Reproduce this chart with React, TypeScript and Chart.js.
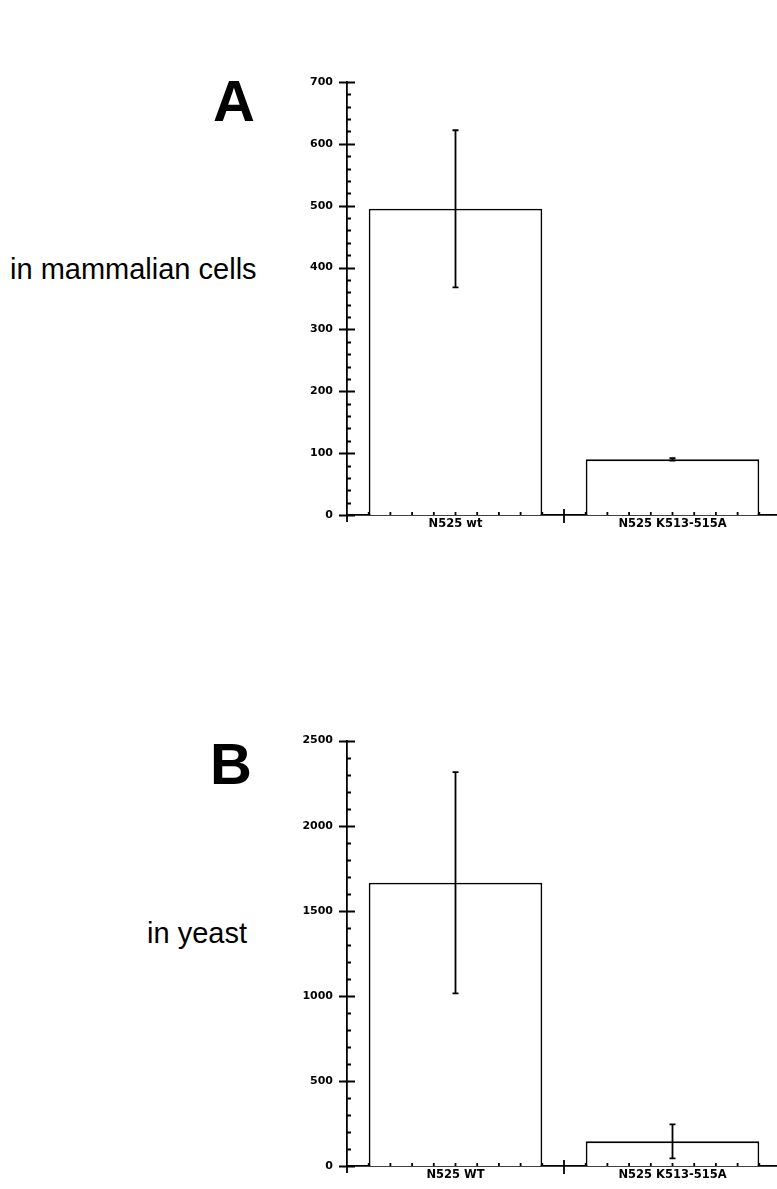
import React, { useEffect, useRef } from 'react';
import { Chart, registerables } from 'chart.js';

Chart.register(...registerables);

// ---- Data (panel A: in mammalian cells) ----
const categoriesA = ['N525 wt', 'N525 K513-515A'];
const valuesA = [495, 90];
const errorsA = [127, 2];
const yMaxA = 700;
const yMajorA = 100;
const yMinorA = 20;

// ---- Data (panel B: in yeast) ----
const categoriesB = ['N525 WT', 'N525 K513-515A'];
const valuesB = [1665, 145];
const errorsB = [650, 100];
const yMaxB = 2500;
const yMajorB = 500;
const yMinorB = 100;

const LW = 1.8;

function makeErrorBarPlugin(errors: number[]) {
  return {
    id: 'errorBars',
    afterDatasetsDraw(chart: any) {
      const meta = chart.getDatasetMeta(0);
      const y = chart.scales.y;
      const ctx = chart.ctx;
      const data = chart.data.datasets[0].data as number[];
      ctx.save();
      ctx.strokeStyle = '#000';
      ctx.lineWidth = LW;
      meta.data.forEach((bar: any, i: number) => {
        const v = data[i];
        const e = errors[i];
        const yt = y.getPixelForValue(v + e);
        const yb = y.getPixelForValue(v - e);
        const x = bar.x;
        const cap = 3;
        ctx.beginPath();
        ctx.moveTo(x, yt);
        ctx.lineTo(x, yb);
        ctx.moveTo(x - cap, yt);
        ctx.lineTo(x + cap, yt);
        ctx.moveTo(x - cap, yb);
        ctx.lineTo(x + cap, yb);
        ctx.stroke();
      });
      ctx.restore();
    },
  };
}

function makeAxisTicksPlugin(max: number, major: number, minor: number) {
  return {
    id: 'axisTicks',
    afterDraw(chart: any) {
      const ctx = chart.ctx;
      const { left, bottom } = chart.chartArea;
      const ys = chart.scales.y;
      const xs = chart.scales.x;
      ctx.save();
      ctx.strokeStyle = '#000';
      ctx.lineWidth = LW;
      ctx.beginPath();
      for (let v = 0; v <= max + 1e-9; v += minor) {
        const py = Math.round(ys.getPixelForValue(v)) + 0.5;
        if (Math.abs(v / major - Math.round(v / major)) < 1e-6) {
          ctx.moveTo(left - 8, py);
          ctx.lineTo(left + 8, py);
        } else {
          ctx.moveTo(left, py);
          ctx.lineTo(left + 4, py);
        }
      }
      const n = chart.data.labels.length;
      const c0 = xs.getPixelForValue(0);
      const w = n > 1 ? xs.getPixelForValue(1) - c0 : xs.width;
      for (let i = 0; i < n; i++) {
        const c = xs.getPixelForValue(i);
        for (let k = -4; k <= 4; k++) {
          const px = c + (k * w) / 10;
          ctx.moveTo(px, bottom);
          ctx.lineTo(px, bottom - 3);
        }
      }
      for (let i = 0; i <= n; i++) {
        const px = c0 - w / 2 + i * w;
        if (i === 0) {
          ctx.moveTo(px, bottom);
          ctx.lineTo(px, bottom + 7);
        } else {
          ctx.moveTo(px, bottom - 6);
          ctx.lineTo(px, bottom + 8);
        }
      }
      ctx.stroke();
      ctx.restore();
    },
  };
}

function BarPanel(props: {
  labels: string[];
  values: number[];
  errors: number[];
  max: number;
  major: number;
  minor: number;
  padTop: number;
  padBottom: number;
  style: React.CSSProperties;
}) {
  const ref = useRef<HTMLCanvasElement>(null);
  useEffect(() => {
    if (!ref.current) return;
    const chart = new Chart(ref.current, {
      type: 'bar',
      data: {
        labels: props.labels,
        datasets: [
          {
            data: props.values,
            backgroundColor: '#ffffff',
            borderColor: '#000000',
            borderWidth: LW,
            barPercentage: 0.8,
            categoryPercentage: 1.0,
          },
        ],
      },
      options: {
        responsive: false,
        animation: false,
        devicePixelRatio: 1,
        layout: { padding: { top: props.padTop, bottom: props.padBottom, left: 0, right: 9 } },
        plugins: { legend: { display: false }, tooltip: { enabled: false } },
        scales: {
          x: {
            grid: { display: false, drawTicks: false },
            border: { display: true, color: '#000', width: LW },
            ticks: {
              color: '#000',
              padding: 2,
              maxRotation: 0,
              font: { family: 'DejaVu Sans', weight: 'bold', size: 11.5 },
            },
            afterFit: (s: any) => {
              s.height = 35;
            },
          },
          y: {
            min: 0,
            max: props.max,
            grid: { display: false, drawTicks: false },
            border: { display: true, color: '#000', width: LW },
            ticks: {
              stepSize: props.major,
              color: '#000',
              padding: 14,
              font: { family: 'DejaVu Sans', weight: 'bold', size: 11 },
              callback: (v: any) => String(v),
            },
            afterFit: (s: any) => {
              s.width = 67;
            },
          },
        },
      },
      plugins: [makeErrorBarPlugin(props.errors), makeAxisTicksPlugin(props.max, props.major, props.minor)],
    } as any);
    return () => chart.destroy();
  }, []);
  return <canvas ref={ref} width={510} height={490} style={{ position: 'absolute', ...props.style }} />;
}

export default function App() {
  const bigLetter: React.CSSProperties = {
    position: 'absolute',
    fontFamily: '"Liberation Sans", Arial, sans-serif',
    fontWeight: 900,
    fontSize: 58,
    lineHeight: '58px',
    color: '#000',
    margin: 0,
  };
  const sideText: React.CSSProperties = {
    position: 'absolute',
    fontFamily: '"Liberation Sans", Arial, sans-serif',
    fontSize: 29,
    lineHeight: '29px',
    color: '#000',
    whiteSpace: 'nowrap',
    margin: 0,
  };
  return (
    <div
      style={{
        position: 'absolute',
        left: 0,
        top: 0,
        width: 777,
        height: 1189,
        overflow: 'hidden',
        background: '#fff',
      }}
    >
      <div style={{ ...bigLetter, left: 213, top: 72 }}>A</div>
      <div style={{ ...sideText, left: 10, top: 255 }}>in mammalian cells</div>
      <BarPanel
        labels={categoriesA}
        values={valuesA}
        errors={errorsA}
        max={yMaxA}
        major={yMajorA}
        minor={yMinorA}
        padTop={22}
        padBottom={0}
        style={{ left: 280, top: 60 }}
      />
      <div style={{ ...bigLetter, left: 210, top: 735 }}>B</div>
      <div style={{ ...sideText, left: 147, top: 919 }}>in yeast</div>
      <BarPanel
        labels={categoriesB}
        values={valuesB}
        errors={errorsB}
        max={yMaxB}
        major={yMajorB}
        minor={yMinorB}
        padTop={15}
        padBottom={9}
        style={{ left: 280, top: 720 }}
      />
    </div>
  );
}
